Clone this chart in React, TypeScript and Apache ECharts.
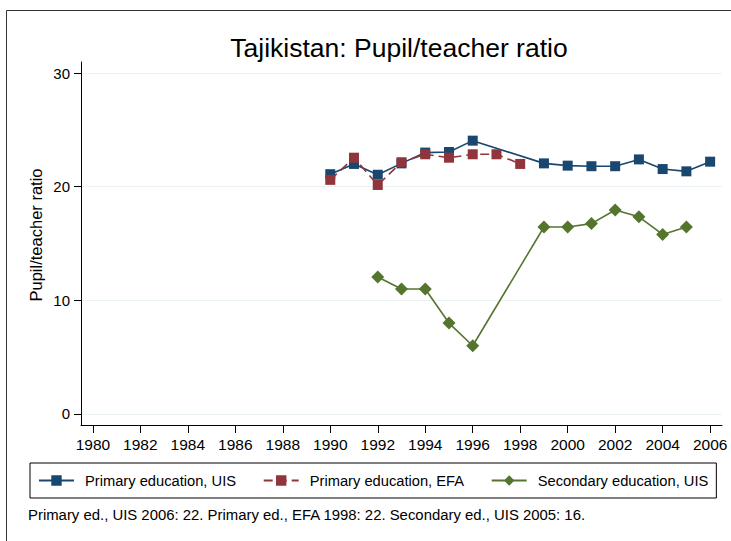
import React, { useEffect, useRef } from "react";
import * as echarts from "echarts";

const uisYears = [1990, 1991, 1992, 1993, 1994, 1995, 1996, 1999, 2000, 2001, 2002, 2003, 2004, 2005, 2006];
const uisValues = [21.1, 22.0, 21.05, 22.05, 23.0, 23.05, 24.05, 22.05, 21.85, 21.8, 21.8, 22.4, 21.55, 21.35, 22.2];

const efaYears = [1990, 1991, 1992, 1993, 1994, 1995, 1996, 1997, 1998];
const efaValues = [20.6, 22.55, 20.15, 22.15, 22.85, 22.55, 22.85, 22.85, 22.0];

const secYears = [1992, 1993, 1994, 1995, 1996, 1999, 2000, 2001, 2002, 2003, 2004, 2005];
const secValues = [12.05, 11.0, 11.0, 8.0, 6.0, 16.45, 16.45, 16.75, 17.95, 17.35, 15.8, 16.45];

const xTicks = [1980, 1982, 1984, 1986, 1988, 1990, 1992, 1994, 1996, 1998, 2000, 2002, 2004, 2006];
const yTicks = [0, 10, 20, 30];

const seriesNames = ["Primary education, UIS", "Primary education, EFA", "Secondary education, UIS"];
const titleText = "Tajikistan: Pupil/teacher ratio";
const yTitle = "Pupil/teacher ratio";
const caption = "Primary ed., UIS 2006: 22. Primary ed., EFA 1998: 22. Secondary ed., UIS 2005: 16.";

const pair = (xs: number[], ys: number[]) => xs.map((x, i) => [x, ys[i]]);

export default function App() {
  const ref = useRef<HTMLDivElement>(null);
  useEffect(() => {
    document.body.style.margin = "0";
    const chart = echarts.init(ref.current!, null, { renderer: "svg" });
    const font = "'Liberation Sans', Arial, sans-serif";
    chart.setOption({
      animation: false,
      backgroundColor: "#ffffff",
      textStyle: { fontFamily: font },
      title: {
        text: titleText,
        left: 394,
        textAlign: "center",
        top: 29,
        textStyle: { fontSize: 26.5, fontWeight: "normal", color: "#000", fontFamily: font },
      },
      grid: { left: 81, right: 9, top: 62, bottom: 116, containLabel: false },
      xAxis: {
        type: "value",
        min: 1979.5,
        max: 2006.5,
        axisLine: { show: true, onZero: false, lineStyle: { color: "#000", width: 1 } },
        axisTick: { show: true, length: 8, lineStyle: { color: "#000" }, customValues: xTicks },
        axisLabel: {
          customValues: xTicks,
          fontSize: 15.5,
          color: "#000",
          margin: 11,
          formatter: (v: number) => String(v),
        },
        splitLine: { show: false },
      },
      yAxis: {
        type: "value",
        min: -0.97,
        max: 30.97,
        axisLine: { show: true, lineStyle: { color: "#000", width: 1 } },
        axisTick: { show: true, length: 7, lineStyle: { color: "#000" }, customValues: yTicks },
        axisLabel: {
          customValues: yTicks,
          fontSize: 15,
          color: "#000",
          margin: 11,
          formatter: (v: number) => String(v),
        },
        splitLine: { show: true, lineStyle: { color: "#eaf2f3", width: 1 } },
      },
      legend: {
        left: 30,
        top: 463,
        padding: [10, 8, 10, 8],
        borderColor: "#000",
        borderWidth: 1,
        itemGap: 26.7,
        itemWidth: 35,
        itemHeight: 13,
        textStyle: { fontSize: 14.7, color: "#000", fontFamily: font, padding: [0, 0, 0, 6] },
        data: seriesNames,
      },
      series: [
        {
          name: seriesNames[0],
          type: "line",
          data: pair(uisYears, uisValues),
          symbol: "rect",
          symbolSize: 10,
          itemStyle: { color: "#1a476f" },
          lineStyle: { color: "#1a476f", width: 1.6 },
          z: 3,
        },
        {
          name: seriesNames[1],
          type: "line",
          data: pair(efaYears, efaValues),
          symbol: "rect",
          symbolSize: 10,
          itemStyle: { color: "#90353b" },
          lineStyle: { color: "#90353b", width: 1.6, type: [9, 5] },
          z: 4,
        },
        {
          name: seriesNames[2],
          type: "line",
          data: pair(secYears, secValues),
          symbol: "diamond",
          symbolSize: 13,
          itemStyle: { color: "#55752f" },
          lineStyle: { color: "#55752f", width: 1.6 },
          z: 5,
        },
      ],
      graphic: [
        {
          type: "rect",
          shape: { x: 6.5, y: 10.5, width: 900, height: 700 },
          style: { fill: "none", stroke: "#333", lineWidth: 1 },
          silent: true,
        },
        {
          type: "text",
          x: 36,
          y: 235,
          rotation: Math.PI / 2,
          style: {
            text: yTitle,
            fontSize: 16.5,
            fill: "#000",
            fontFamily: font,
            align: "center",
            verticalAlign: "middle",
          },
        },
        {
          type: "text",
          left: 28,
          top: 507,
          style: { text: caption, fontSize: 14.9, fill: "#000", fontFamily: font },
        },
      ],
    });
    return () => chart.dispose();
  }, []);
  return <div ref={ref} style={{ width: 731, height: 541 }} />;
}
